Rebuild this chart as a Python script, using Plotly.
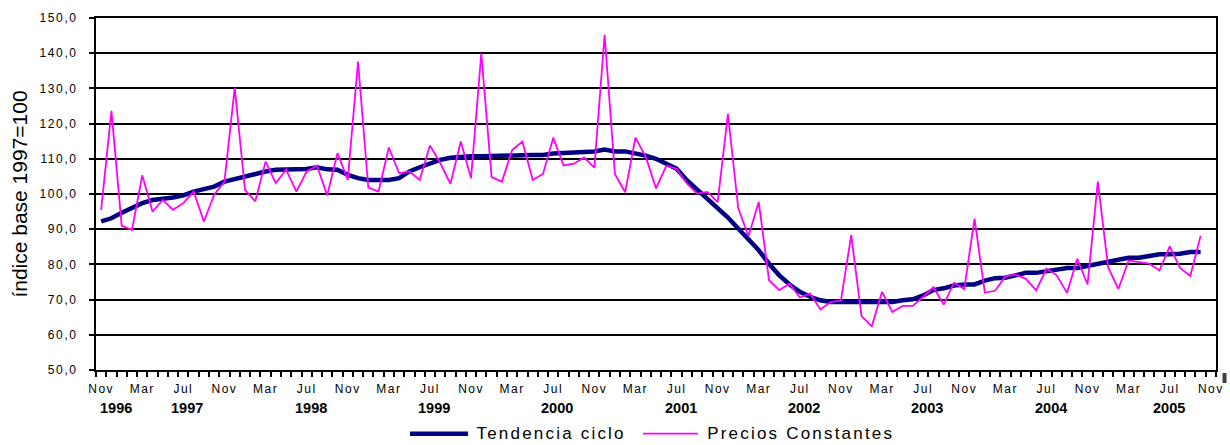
import plotly.graph_objects as go

# ---------------- data ----------------
start_year, start_month = 1996, 11
n_categories = 109  # Nov 1996 .. Nov 2005 on the category axis

tendencia_ciclo = [
    92.2, 93.1, 94.7, 96.2, 97.4, 98.3, 98.5, 99.0, 99.6, 100.7,
    101.4, 102.1, 103.5, 104.2, 105.2, 105.9, 106.4, 106.9, 106.9, 106.9,
    107.1, 107.6, 107.0, 106.9, 105.4, 104.5, 104.0, 104.0, 104.0, 104.5,
    106.4, 107.6, 108.8, 109.7, 110.3, 110.6, 110.7, 110.7, 110.7, 110.7,
    110.8, 111.0, 111.1, 111.1, 111.5, 111.6, 112.0, 112.1, 112.1, 112.6,
    112.1, 112.1, 111.6, 110.9, 110.0, 108.6, 107.2, 103.9, 101.3, 98.4,
    96.0, 93.3, 90.2, 86.9, 84.0, 80.2, 76.9, 74.3, 72.2, 70.8,
    69.8, 69.3, 69.3, 69.3, 69.3, 69.3, 69.3, 69.3, 69.8, 70.1,
    71.2, 72.7, 73.2, 74.0, 74.3, 74.3, 75.4, 76.1, 76.2, 76.9,
    77.6, 77.6, 78.0, 78.6, 79.0, 79.0, 79.5, 80.2, 80.7, 81.3,
    81.9, 81.9, 82.4, 82.9, 82.9, 83.0, 83.5, 83.5,
]

precios_constantes = [
    95.5, 123.6, 91.0, 89.8, 105.3, 95.0, 98.3, 95.5, 97.4, 100.7,
    92.2, 99.8, 103.5, 130.2, 101.2, 97.9, 109.2, 103.1, 106.9, 100.7,
    106.4, 108.1, 99.6, 111.6, 104.0, 137.6, 101.8, 100.7, 113.2, 105.9,
    106.4, 104.0, 113.8, 108.8, 102.9, 114.9, 104.5, 140.0, 104.8, 103.5,
    112.5, 114.9, 104.0, 105.7, 116.0, 108.1, 108.6, 110.4, 107.5, 145.2,
    105.7, 100.5, 116.0, 110.6, 101.6, 108.0, 107.2, 103.0, 100.1, 100.6,
    97.7, 122.8, 96.0, 88.0, 97.7, 75.5, 72.7, 74.5, 70.6, 71.7,
    67.2, 69.3, 69.8, 88.3, 65.3, 62.4, 72.2, 66.5, 68.2, 68.2,
    70.8, 73.5, 68.6, 74.8, 73.0, 93.0, 72.0, 72.5, 76.6, 77.1,
    75.9, 72.6, 78.8, 76.9, 71.9, 81.6, 74.3, 103.5, 79.2, 73.0,
    81.1, 80.7, 80.2, 78.3, 85.1, 79.0, 76.7, 88.1,
]

month_tick_labels = ["Nov", "Mar", "Jul"]
year_labels = ["1996", "1997", "1998", "1999", "2000",
               "2001", "2002", "2003", "2004", "2005"]

series_names = ["Tendencia ciclo", "Precios Constantes"]
series_colors = ["#000080", "#FF00FF"]
series_widths = [4.5, 1.8]
y_title = "índice base 1997=100"

# ---------------- derived ----------------
x_idx = list(range(len(precios_constantes)))
tickvals = list(range(0, n_categories, 4))
ticktext = [month_tick_labels[k % 3] for k in range(len(tickvals))]
cat_year = [start_year + (start_month - 1 + i) // 12 for i in range(n_categories)]

fig = go.Figure()
for name, vals, col, w in zip(series_names, [tendencia_ciclo, precios_constantes],
                              series_colors, series_widths):
    fig.add_trace(go.Scatter(x=x_idx, y=vals, mode="lines", name=name,
                             line=dict(color=col, width=w), showlegend=False))

FONT = "Arial, Liberation Sans, sans-serif"
annotations = []
for y in year_labels:
    members = [i for i, cy in enumerate(cat_year) if cy == int(y)]
    xc = sum(members) / len(members) + 0.9
    annotations.append(dict(
        x=xc, xref="x", y=-0.108, yref="paper", text="<b>%s</b>" % y,
        showarrow=False, xanchor="center", yanchor="middle",
        font=dict(size=14.5, family=FONT, color="black"),
    ))

# legend drawn below the plot (line samples + labels)
legend_y = -0.181
legend_items = [  # (line x0, line x1, text x) in paper fraction
    (0.2804, 0.3321, 0.3531),
    (0.4884, 0.5375, 0.5616),
]
shapes = []
for (x0, x1, xt), name, col, w in zip(legend_items, series_names,
                                      series_colors, series_widths):
    shapes.append(dict(type="line", xref="paper", yref="paper",
                       x0=x0, x1=x1, y0=legend_y, y1=legend_y,
                       line=dict(color=col, width=w)))
    annotations.append(dict(
        x=xt, xref="paper", y=legend_y, yref="paper", text=name,
        showarrow=False, xanchor="left", yanchor="middle",
        font=dict(size=17, family=FONT, color="black"),
    ))
shapes.append(dict(type="rect", xref="paper", yref="paper",
                   x0=1.0058, x1=1.0094, y0=-0.037, y1=-0.0085,
                   fillcolor="#404040", line=dict(width=0)))

fig.update_layout(
    width=1230, height=445,
    margin=dict(l=96, r=14, t=18, b=75, autoexpand=False),
    paper_bgcolor="white", plot_bgcolor="white",
    separators=",.",
    font=dict(family=FONT, color="black"),
    showlegend=False,
    annotations=annotations,
    shapes=shapes,
    xaxis=dict(
        range=[-0.5, n_categories - 0.5], automargin=False,
        tickmode="array", tickvals=tickvals, ticktext=ticktext,
        ticks="", showgrid=False, zeroline=False,
        showline=True, linecolor="black", linewidth=2, mirror=True,
        tickfont=dict(size=12), ticklabelstandoff=7,
        minor=dict(ticks="outside", tickmode="array",
                   tickvals=[i - 0.5 for i in range(n_categories + 1)],
                   ticklen=5, tickwidth=2, tickcolor="black", showgrid=False),
    ),
    yaxis=dict(
        range=[50, 150], tick0=50, dtick=10, tickformat=".1f", automargin=False,
        showgrid=True, gridcolor="black", gridwidth=2, zeroline=False,
        showline=True, linecolor="black", linewidth=2, mirror=True,
        ticks="outside", ticklen=5, tickwidth=2, tickcolor="black",
        tickfont=dict(size=12), ticklabelstandoff=9,
        title=dict(text=y_title, font=dict(size=21), standoff=14),
    ),
)

# page without body margin; Excel-style letter spacing on axis labels and legend texts
post_script = """
(function(){
  document.body.style.margin = '0';
  document.body.style.padding = '0';
  var gd = document.getElementById('{plot_id}');
  var legendNames = %s;
  function apply(){
    gd.querySelectorAll('.xtick text').forEach(function(t){ t.style.letterSpacing = '1.5px'; });
    gd.querySelectorAll('.ytick text').forEach(function(t){ t.style.letterSpacing = '1.6px'; });
    gd.querySelectorAll('.annotation-text').forEach(function(t){
      if (legendNames.indexOf(t.textContent) >= 0) { t.style.letterSpacing = '2.2px'; }
    });
  }
  apply();
  gd.on('plotly_afterplot', apply);
})();
""" % str(series_names).replace("'", '"')

fig.write_html("out.html", post_script=post_script,
               config={"displayModeBar": False})
